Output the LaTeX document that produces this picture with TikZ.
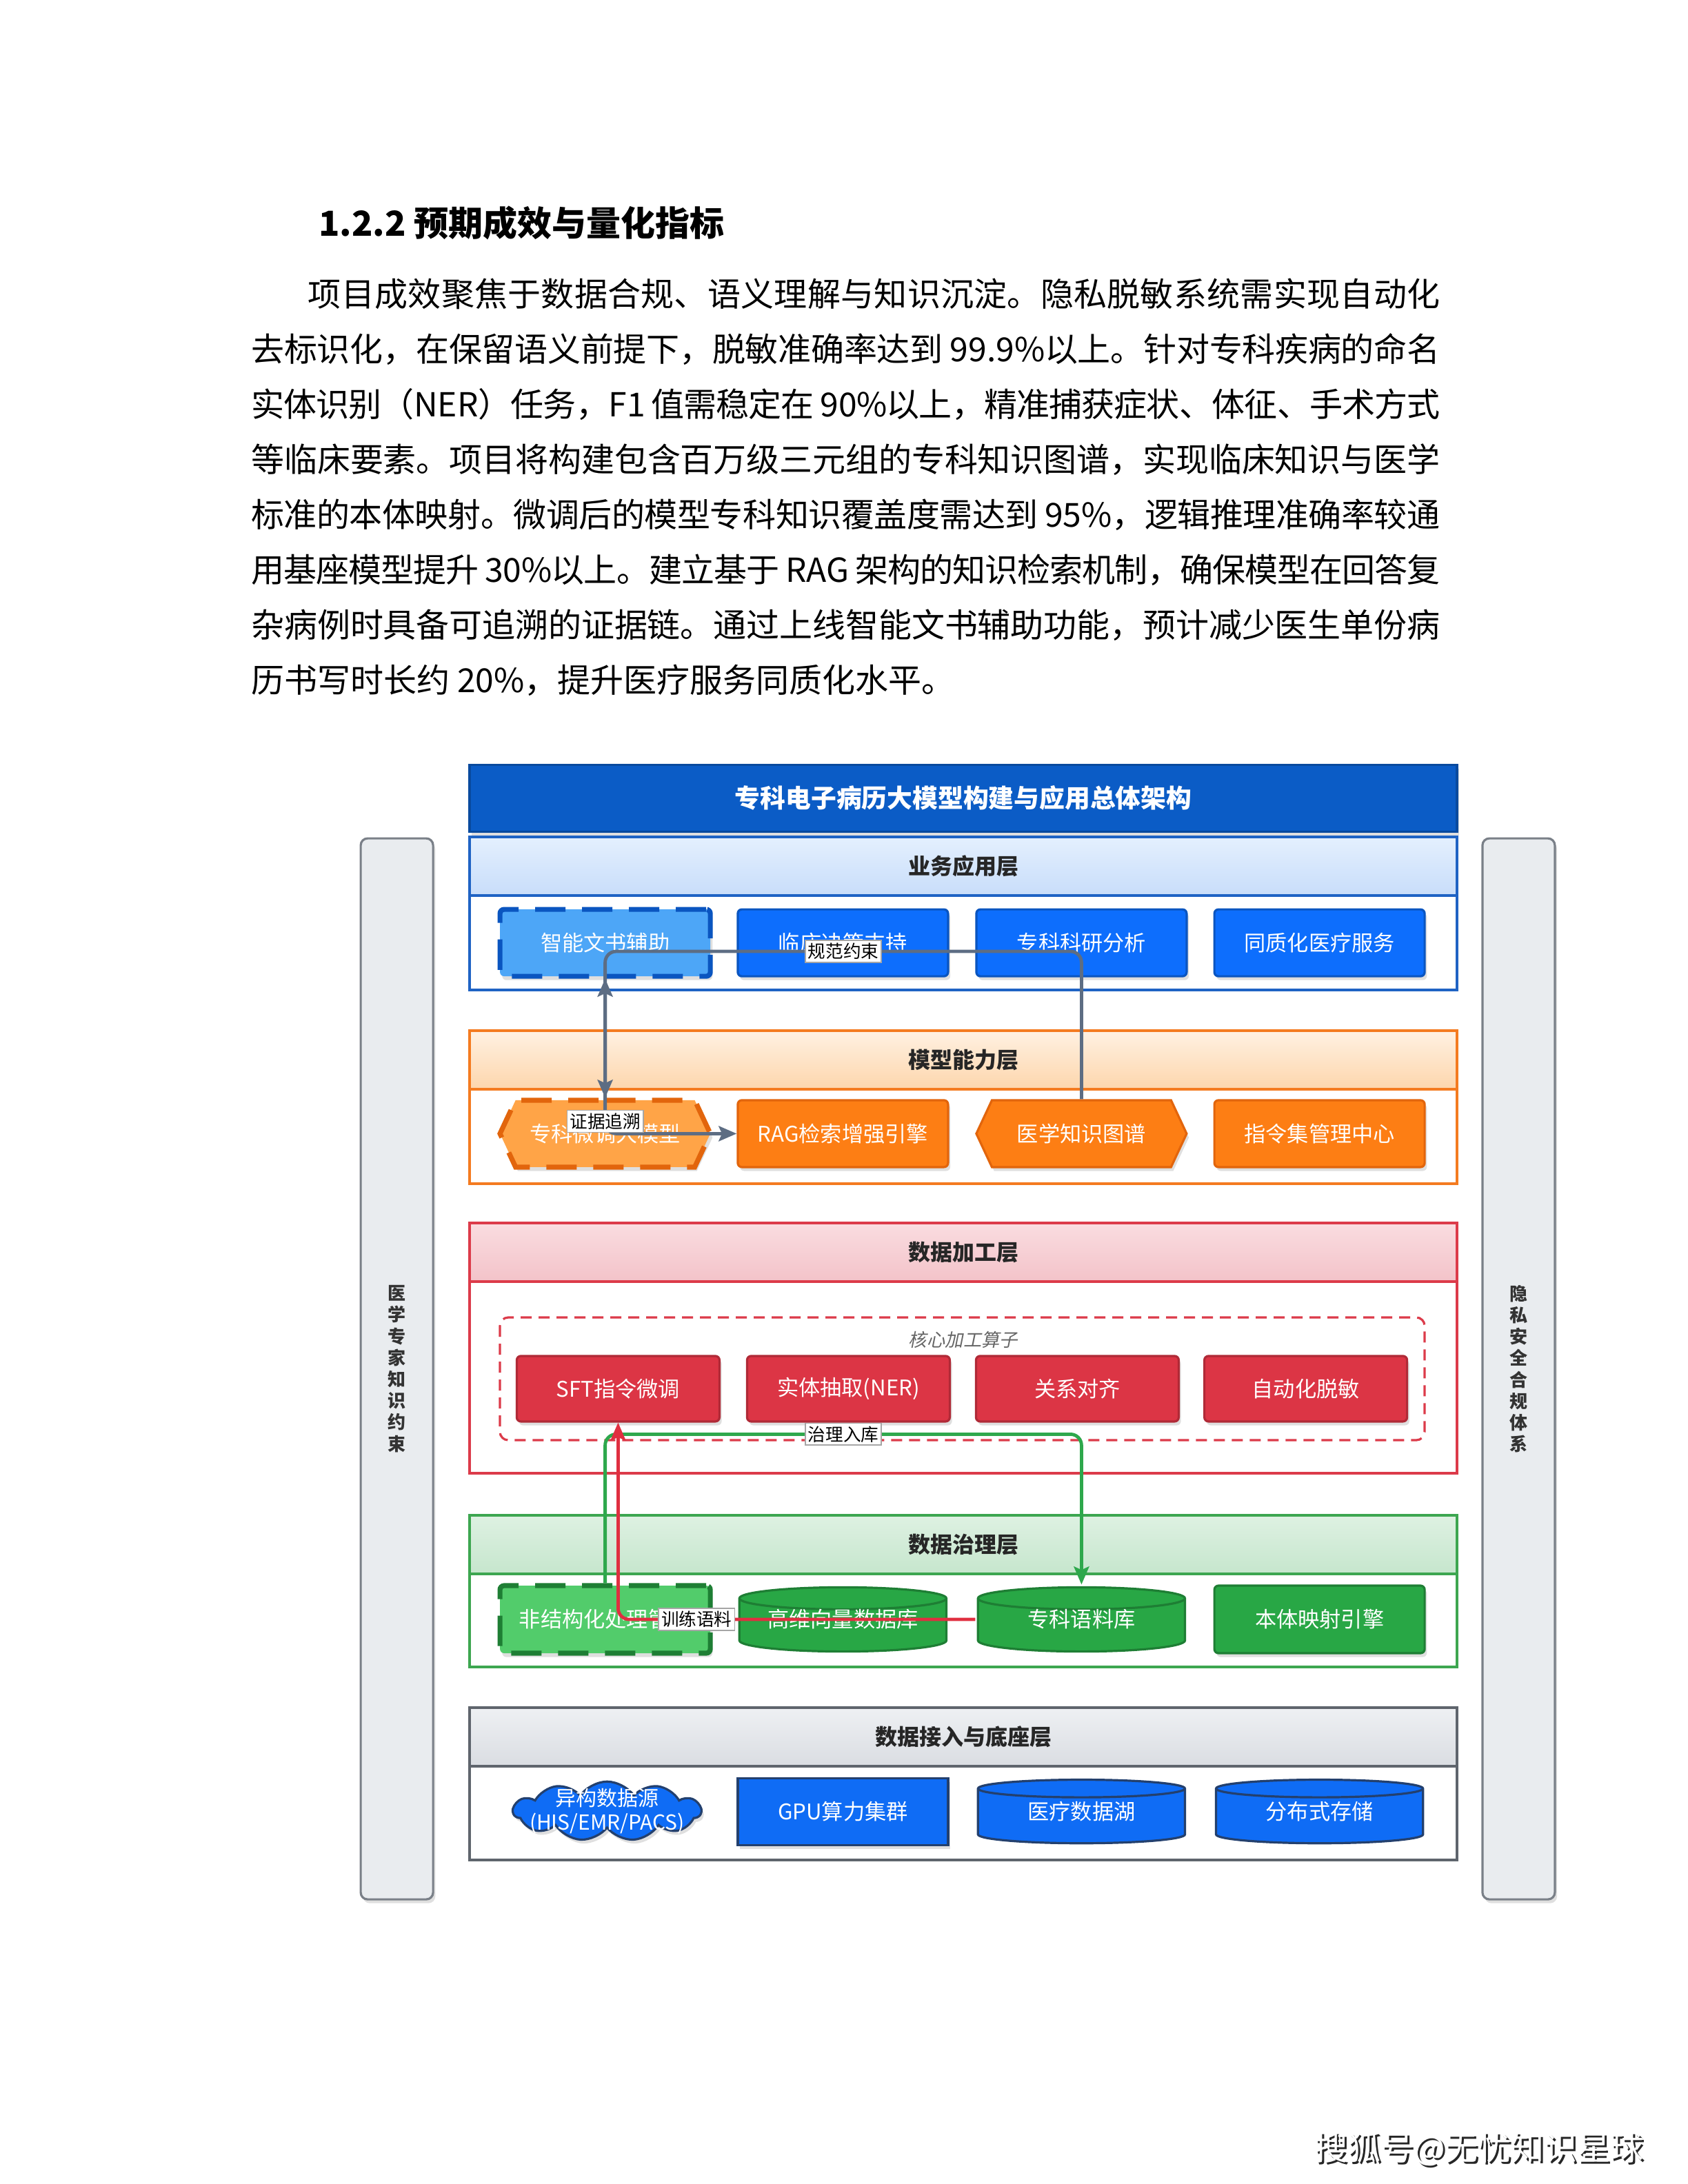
\documentclass[tikz,border=0pt]{standalone}
\usepackage{fontspec}
\setmainfont{Noto Sans CJK SC}
\newfontfamily\slantcjk[FakeSlant=0.2]{Noto Sans CJK SC}
\usetikzlibrary{arrows.meta,shapes.symbols,shadows,calc}
\XeTeXlinebreaklocale "zh"
\XeTeXlinebreakskip=0pt plus 1pt minus 0.5pt
\XeTeXlinebreakpenalty=10000
\newcommand\cellfont{\fontsize{7.8}{9.5}\selectfont}
\newcommand\layerfont{\fontsize{8}{10}\selectfont\bfseries}
\newcommand\linkfont{\fontsize{6.4}{7.5}\selectfont}
\definecolor{ttlblue}{HTML}{0B5CC6}
\definecolor{bizline}{HTML}{1F63C4}
\definecolor{bizfill}{HTML}{0D6EFD}
\definecolor{bizlite}{HTML}{4DA6F7}
\definecolor{bizedge}{HTML}{0A55C0}
\definecolor{biztop}{HTML}{E4F0FE}
\definecolor{bizbot}{HTML}{C8DDFA}
\definecolor{modline}{HTML}{F47B20}
\definecolor{modfill}{HTML}{FD7E14}
\definecolor{modlite}{HTML}{FFA447}
\definecolor{modedge}{HTML}{E2650C}
\definecolor{modtop}{HTML}{FFF1E2}
\definecolor{modbot}{HTML}{FDD6AC}
\definecolor{proline}{HTML}{DC3B4A}
\definecolor{profill}{HTML}{DC3545}
\definecolor{proedge}{HTML}{B02A37}
\definecolor{protop}{HTML}{FADCE0}
\definecolor{probot}{HTML}{F3C3C9}
\definecolor{govline}{HTML}{3DA650}
\definecolor{govfill}{HTML}{28A745}
\definecolor{govlite}{HTML}{52CC6B}
\definecolor{govedge}{HTML}{1E7E34}
\definecolor{govtop}{HTML}{DEF1E2}
\definecolor{govbot}{HTML}{C6E6CD}
\definecolor{accline}{HTML}{5F656D}
\definecolor{accfill}{HTML}{0F6CF5}
\definecolor{accedge}{HTML}{23406E}
\definecolor{acctop}{HTML}{EEF0F3}
\definecolor{accbot}{HTML}{DADDE2}
\definecolor{sidefill}{HTML}{E9ECEF}
\definecolor{sideedge}{HTML}{7A8088}
\definecolor{linkgray}{HTML}{5D6D83}
\definecolor{linkgreen}{HTML}{2EA84C}
\definecolor{linkred}{HTML}{E02F40}
\begin{document}
\begin{tikzpicture}[x=1pt, y=-1pt, >={Stealth[length=6.5pt,width=5.5pt,inset=1.2pt]},
  cell/.style={rectangle, minimum width=76.25pt, minimum height=24.25pt, inner sep=0pt, text=white, font=\cellfont, line width=0.8pt},
  softshadow/.style={drop shadow={shadow xshift=0.8pt, shadow yshift=-1.4pt, opacity=.25}},
  appbox/.style={cell, softshadow, rounded corners=1.5pt},
  dashbox/.style={appbox, line width=1.8pt, dash pattern=on 11pt off 6pt},
  hexa/.style={cell, softshadow, signal, signal to=east and west, signal pointer angle=130},
  cyl/.style n args={3}{cell, path picture={
      \draw[fill=#1, draw=#2, line width=0.8pt]
        let \p1=([shift={(0.6pt,0.6pt)}]path picture bounding box.south west),
            \p2=([shift={(-0.6pt,-0.6pt)}]path picture bounding box.north east),
            \n1={(\x2-\x1)/2}
        in (\x1,\y2-#3) -- (\x1,\y1+#3)
           arc[start angle=180, end angle=360, x radius=\n1, y radius=#3]
           -- (\x2,\y2-#3)
           arc[start angle=0, end angle=180, x radius=\n1, y radius=#3] -- cycle
           (\x1,\y2-#3) arc[start angle=180, end angle=360, x radius=\n1, y radius=#3];
    }},
  layerhead/.style={rectangle, minimum width=358pt, minimum height=21.25pt, line width=0.9pt, font=\layerfont, text=black!85},
  layerframe/.style={line width=0.9pt, fill=white},
  sidebar/.style={rectangle, rounded corners=2.5pt, fill=sidefill, draw=sideedge, line width=0.8pt, minimum width=26.25pt, minimum height=384.75pt, align=center, font=\fontsize{6.5}{7.8}\selectfont\bfseries, text=black!80, softshadow},
  link/.style={->, line width=1.2pt, rounded corners=4pt},
  lbl/.style={sharp corners, fill=white, draw=black!35, line width=0.4pt, inner sep=1pt, text=black, font=\linkfont}]
\fill[white] (0,0) rectangle (612,792);
\useasboundingbox (0,0) rectangle (612,792);
\node[anchor=base west, font=\fontsize{12.5}{15}\selectfont\bfseries] (sec) at (112,85.5) {1.2.2 预期成效与量化指标};
\node[anchor=base west, text width=431pt, align=justify, inner sep=0pt, font=\fontsize{12}{20}\selectfont] (para) at (90.9,111.1) {\hspace*{20.6pt}项目成效聚焦于数据合规、语义理解与知识沉淀。隐私脱敏系统需实现自动化\linebreak
去标识化，在保留语义前提下，脱敏准确率达到~99.9\%以上。针对专科疾病的命名\linebreak
实体识别（NER）任务，F1~值需稳定在~90\%以上，精准捕获症状、体征、手术方式\linebreak
等临床要素。项目将构建包含百万级三元组的专科知识图谱，实现临床知识与医学\linebreak
标准的本体映射。微调后的模型专科知识覆盖度需达到~95\%，逻辑推理准确率较通\linebreak
用基座模型提升~30\%以上。建立基于~RAG~架构的知识检索机制，确保模型在回答复\linebreak
杂病例时具备可追溯的证据链。通过上线智能文书辅助功能，预计减少医生单份病\linebreak
历书写时长约~20\%，提升医疗服务同质化水平。};
\node[sidebar] (medbar) at (143.9,496.4) {医\\学\\专\\家\\知\\识\\约\\束};
\node[sidebar] (secbar) at (550.6,496.4) {隐\\私\\安\\全\\合\\规\\体\\系};
\node[rectangle, fill=ttlblue, draw=ttlblue!80!black, line width=0.8pt, minimum width=358pt, minimum height=24.25pt, text=white, font=\fontsize{9.2}{11}\selectfont\bfseries, softshadow] (title) at (349.25,289.4) {专科电子病历大模型构建与应用总体架构};
\draw[layerframe, draw=bizline] (170.25,303.5) rectangle (528.25,359);
\node[layerhead, draw=bizline, top color=biztop, bottom color=bizbot] (bizhead) at (349.25,314.1) {业务应用层};
\node[dashbox, fill=bizlite, draw=bizedge] (writer) at (219.4,341.9) {智能文书辅助};
\node[appbox, fill=bizfill, draw=bizedge] (cds) at (305.6,341.9) {临床决策支持};
\node[appbox, fill=bizfill, draw=bizedge] (research) at (392.1,341.9) {专科科研分析};
\node[appbox, fill=bizfill, draw=bizedge] (homog) at (478.4,341.9) {同质化医疗服务};
\draw[layerframe, draw=modline] (170.25,373.75) rectangle (528.25,429.25);
\node[layerhead, draw=modline, top color=modtop, bottom color=modbot] (modhead) at (349.25,384.4) {模型能力层};
\node[hexa, fill=modlite, draw=modedge, line width=1.8pt, dash pattern=on 11pt off 6pt] (ftm) at (219.4,411.1) {专科微调大模型};
\node[appbox, fill=modfill, draw=modedge] (rag) at (305.6,411.1) {RAG检索增强引擎};
\node[hexa, fill=modfill, draw=modedge] (kg) at (392.1,411.1) {医学知识图谱};
\node[appbox, fill=modfill, draw=modedge] (instr) at (478.4,411.1) {指令集管理中心};
\draw[layerframe, draw=proline] (170.25,443.75) rectangle (528.25,534.25);
\node[layerhead, draw=proline, top color=protop, bottom color=probot] (prochead) at (349.25,454.1) {数据加工层};
\draw[draw=proline, line width=0.8pt, dash pattern=on 4pt off 2.5pt, rounded corners=3pt] (181.25,477.75) rectangle (516.5,522.25);
\node[text=black!60, font=\fontsize{6.6}{8}\slantcjk] (coreop) at (349.25,485.75) {核心加工算子};
\node[appbox, minimum width=73.5pt, minimum height=23.75pt, fill=profill, draw=proedge] (sft) at (224.1,503.6) {SFT指令微调};
\node[appbox, minimum width=73.5pt, minimum height=23.75pt, fill=profill, draw=proedge] (ner) at (307.6,503.6) {实体抽取(NER)};
\node[appbox, minimum width=73.5pt, minimum height=23.75pt, fill=profill, draw=proedge] (relal) at (390.6,503.6) {关系对齐};
\node[appbox, minimum width=73.5pt, minimum height=23.75pt, fill=profill, draw=proedge] (desens) at (473.4,503.6) {自动化脱敏};
\draw[layerframe, draw=govline] (170.25,549.5) rectangle (528.25,604.5);
\node[layerhead, draw=govline, top color=govtop, bottom color=govbot] (govhead) at (349.25,560.1) {数据治理层};
\node[dashbox, fill=govlite, draw=govedge, minimum height=24.5pt] (unstruct) at (219.4,587.25) {非结构化处理管道};
\node[cyl={govfill}{govedge}{4pt}, minimum height=24.5pt] (vecdb) at (305.6,587.25) {高维向量数据库};
\node[cyl={govfill}{govedge}{4pt}, minimum height=24.5pt] (corpus) at (392.1,587.25) {专科语料库};
\node[appbox, fill=govfill, draw=govedge, minimum height=24.5pt] (ontology) at (478.4,587.25) {本体映射引擎};
\draw[layerframe, draw=accline] (170.25,619.5) rectangle (528.25,674.5);
\node[layerhead, draw=accline, top color=acctop, bottom color=accbot] (acchead) at (349.25,629.9) {数据接入与底座层};
\node[cloud, cloud puffs=11, cloud puff arc=110, aspect=3.2, fill=accfill, draw=accedge, line width=0.8pt, minimum width=68pt, minimum height=21.5pt, inner sep=0pt, softshadow] (srcs) at (220.1,656.8) {};
\node[text=white, align=center, font=\fontsize{7.5}{8.6}\selectfont] (srctext) at (srcs) {异构数据源\\(HIS/EMR/PACS)};
\node[appbox, rounded corners=0pt, fill=accfill, draw=accedge] (gpu) at (305.6,656.9) {GPU算力集群};
\node[cyl={accfill}{accedge}{3.2pt}] (lake) at (392.1,656.9) {医疗数据湖};
\node[cyl={accfill}{accedge}{3.2pt}] (dstore) at (478.4,656.9) {分布式存储};
\coordinate (normy) at (0,345);
\coordinate (govy) at (0,520.1);
\draw[link, linkgray] (kg.north) -- (kg.north |- normy) -| (ftm.north) node[lbl, pos=0.25] {规范约束};
\draw[link, linkgray, <->] (rag.west) -| (writer.south) node[lbl, pos=0.54] {证据追溯};
\draw[link, linkgreen] (unstruct.north) -- (unstruct.north |- govy) -| (corpus.north) node[lbl, pos=0.25] {治理入库};
\draw[link, linkred] (corpus.west) -| (sft.south) node[lbl, pos=0.39] {训练语料};
\node[anchor=base east, text=black!85, font=\fontsize{12}{14}\selectfont] (markshadow) at (600.2,784) {搜狐号@无忧知识星球};
\node[anchor=base east, text=white, font=\fontsize{12}{14}\selectfont] (mark) at (599.5,783.3) {搜狐号@无忧知识星球};
\end{tikzpicture}
\end{document}
